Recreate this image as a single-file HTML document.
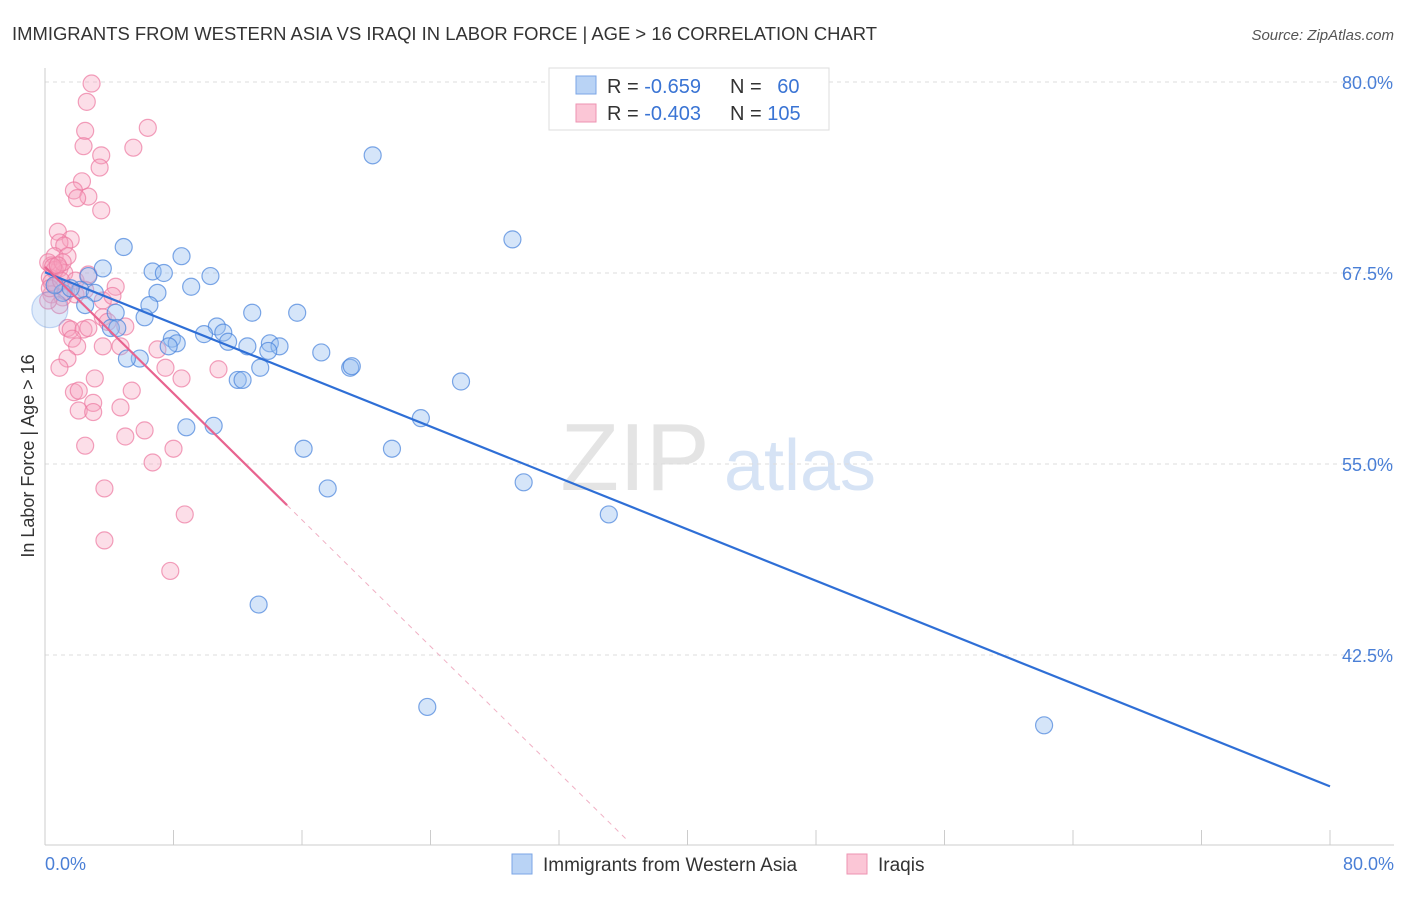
<!DOCTYPE html>
<html><head><meta charset="utf-8"><style>
body{margin:0;background:#fff;font-family:"Liberation Sans",sans-serif}
svg text{font-family:"Liberation Sans",sans-serif}
</style></head><body>
<svg id="chart" width="1406" height="892" xmlns="http://www.w3.org/2000/svg">
<text x="12" y="40" font-size="18" fill="#333" textLength="865" lengthAdjust="spacingAndGlyphs">IMMIGRANTS FROM WESTERN ASIA VS IRAQI IN LABOR FORCE | AGE &gt; 16 CORRELATION CHART</text>
<text x="1394" y="40" font-size="15" fill="#555" font-style="italic" text-anchor="end">Source: ZipAtlas.com</text>
<g>
<text x="635" y="490" font-size="96" fill="#e4e4e4" font-family="Liberation Serif" text-anchor="middle">ZIP</text>
<text x="800" y="490" font-size="72" fill="#d6e3f5" text-anchor="middle">atlas</text>
</g>
<g id="grid"></g><g id="axes"></g><g id="pts"></g><g id="lines"></g>
<text transform="translate(34,456) rotate(-90)" font-size="18" fill="#333" text-anchor="middle">In Labor Force | Age &gt; 16</text>
<text x="45" y="870" font-size="18" fill="#4a7fd6">0.0%</text>
<text x="1394" y="870" font-size="18" fill="#4a7fd6" text-anchor="end">80.0%</text>
<g>
<rect x="549" y="68" width="280" height="62" fill="#fff" stroke="#ddd"/>
<rect x="576" y="76" width="20" height="18" fill="#b9d3f5" stroke="#7ba6e6"/>
<rect x="576" y="104" width="20" height="18" fill="#fbc6d6" stroke="#ee93b2"/>
<text x="607" y="93" font-size="20" fill="#333">R = <tspan fill="#3a74d4">-0.659</tspan></text>
<text x="730" y="93" font-size="20" fill="#333">N = <tspan fill="#3a74d4" dx="10">60</tspan></text>
<text x="607" y="120" font-size="20" fill="#333">R = <tspan fill="#3a74d4">-0.403</tspan></text>
<text x="730" y="120" font-size="20" fill="#333">N = <tspan fill="#3a74d4">105</tspan></text>
</g>
<g>
<rect x="512" y="854" width="20" height="20" fill="#b9d3f5" stroke="#7ba6e6"/>
<text x="543" y="871" font-size="19" fill="#333">Immigrants from Western Asia</text>
<rect x="847" y="854" width="20" height="20" fill="#fbc6d6" stroke="#ee93b2"/>
<text x="878" y="871" font-size="19" fill="#333">Iraqis</text>
</g>
</svg>
<script>
const yTicks=[80,67.5,55,42.5];
const yTickLabels=["80.0%","67.5%","55.0%","42.5%"];
const blueX=[20.4,29.1,4.9,8.5,3.6,6.7,7.4,10.3,2.7,9.1,7.0,1.1,2.2,3.1,6.5,2.5,6.2,4.4,12.9,15.7,4.1,4.5,10.7,9.9,11.1,7.9,8.2,11.4,12.6,14.0,14.6,13.9,7.7,17.2,5.9,5.1,13.4,19.0,19.1,12.0,12.3,25.9,23.4,8.8,10.5,16.1,21.6,17.6,29.8,35.1,13.3,23.8,62.2,0.6,1.6,0.3];
const blueY=[75.2,69.7,69.2,68.6,67.8,67.6,67.5,67.3,67.3,66.6,66.2,66.2,66.4,66.2,65.4,65.4,64.6,64.9,64.9,64.9,63.9,63.9,64.0,63.5,63.6,63.2,62.9,63.0,62.7,62.9,62.7,62.4,62.7,62.3,61.9,61.9,61.3,61.3,61.4,60.5,60.5,60.4,58.0,57.4,57.5,56.0,56.0,53.4,53.8,51.7,45.8,39.1,37.9,66.7,66.5,65.1];
const pinkX=[2.9,2.6,6.4,2.5,5.5,2.4,3.5,3.4,2.3,1.8,2.7,2.0,3.5,0.8,1.6,0.9,1.2,0.6,1.4,0.4,0.9,1.2,0.3,1.9,2.7,0.7,0.4,1.1,1.9,2.5,3.6,4.4,4.2,0.9,3.6,3.9,5.0,1.4,1.6,2.4,2.7,1.7,2.0,3.6,4.7,7.0,1.4,0.9,7.5,10.8,3.1,8.5,1.8,2.1,5.4,3.0,4.7,2.1,3.0,5.0,6.2,2.5,8.0,6.7,3.7,8.7,3.7,7.8,0.2,0.6,1.1,0.4,0.2,0.5,0.8,1.3,0.3,1.0];
const pinkY=[79.9,78.7,77.0,76.8,75.7,75.8,75.2,74.4,73.5,72.9,72.5,72.4,71.6,70.2,69.7,69.5,69.3,68.6,68.6,68.0,67.8,67.5,67.2,67.0,67.4,66.7,66.1,65.9,66.1,66.4,65.7,66.6,66.0,65.4,64.6,64.3,64.0,63.9,63.8,63.8,63.9,63.2,62.7,62.7,62.7,62.5,61.9,61.3,61.3,61.2,60.6,60.6,59.7,59.8,59.8,59.0,58.7,58.5,58.4,56.8,57.2,56.2,56.0,55.1,53.4,51.7,50.0,48.0,68.2,67.7,68.2,66.9,65.7,67.9,68.0,66.3,66.5,67.0];
const blueTrend=[67.55,33.9];
const pinkTrend=[67.9,-1.035];
const NS="http://www.w3.org/2000/svg";
const X=v=>45+v/80*1285, Y=v=>82+(80-v)*15.28;
function mk(t,a,p){const e=document.createElementNS(NS,t);for(const k in a)e.setAttribute(k,a[k]);p.appendChild(e);return e;}
const grid=document.getElementById('grid'),axes=document.getElementById('axes'),pts=document.getElementById('pts'),lines=document.getElementById('lines');
yTicks.forEach((t,i)=>{
 const l=mk('line',{x1:45,x2:1394,y1:Y(t),y2:Y(t),stroke:'#ddd','stroke-dasharray':'4,4'},grid);
 
 
 const tx=mk('text',{x:1393,y:Y(t)+7,'font-size':18,fill:'#4a7fd6','text-anchor':'end'},grid);
 tx.textContent=yTickLabels[i];
 
 
});
const ax=mk('line',{x1:45,x2:45,y1:68,y2:845,stroke:'#ccc'},axes);


const bx=mk('line',{x1:45,x2:1394,y1:845,y2:845,stroke:'#ccc'},axes);


for(let i=0;i<=10;i++){
 const t=mk('line',{x1:X(i*8),x2:X(i*8),y1:830,y2:845,stroke:'#ccc'},axes);
 
 
}
pinkX.forEach((v,i)=>{
 const c=mk('circle',{cx:X(v),cy:Y(pinkY[i]),r:8.5,fill:'rgba(246,160,190,0.35)',stroke:'rgba(236,120,160,0.7)','stroke-width':1.2},pts);
 
 
});
blueX.forEach((v,i)=>{
 const last=i==blueX.length-1;
 const c=mk('circle',{cx:X(v),cy:Y(blueY[i]),r:last?18:8.5,fill:last?'rgba(150,190,240,0.3)':'rgba(150,190,240,0.4)',stroke:last?'rgba(70,130,220,0.3)':'rgba(70,130,220,0.7)','stroke-width':1.2},pts);
 
 
});
const bl=mk('line',{x1:X(0),y1:Y(blueTrend[0]),x2:X(80),y2:Y(blueTrend[1]),stroke:'#2f6fd6','stroke-width':2.2},lines);


const pe=15.07, pd=36.2;
const pl=mk('line',{x1:X(0),y1:Y(pinkTrend[0]),x2:X(pe),y2:Y(pinkTrend[0]+pinkTrend[1]*pe),stroke:'#e8638f','stroke-width':2.2},lines);


const pdl=mk('line',{x1:X(pe),y1:Y(pinkTrend[0]+pinkTrend[1]*pe),x2:X(pd),y2:Y(pinkTrend[0]+pinkTrend[1]*pd),stroke:'#f0b0c4','stroke-width':1,'stroke-dasharray':'5,5'},lines);


</script>
</body></html>
